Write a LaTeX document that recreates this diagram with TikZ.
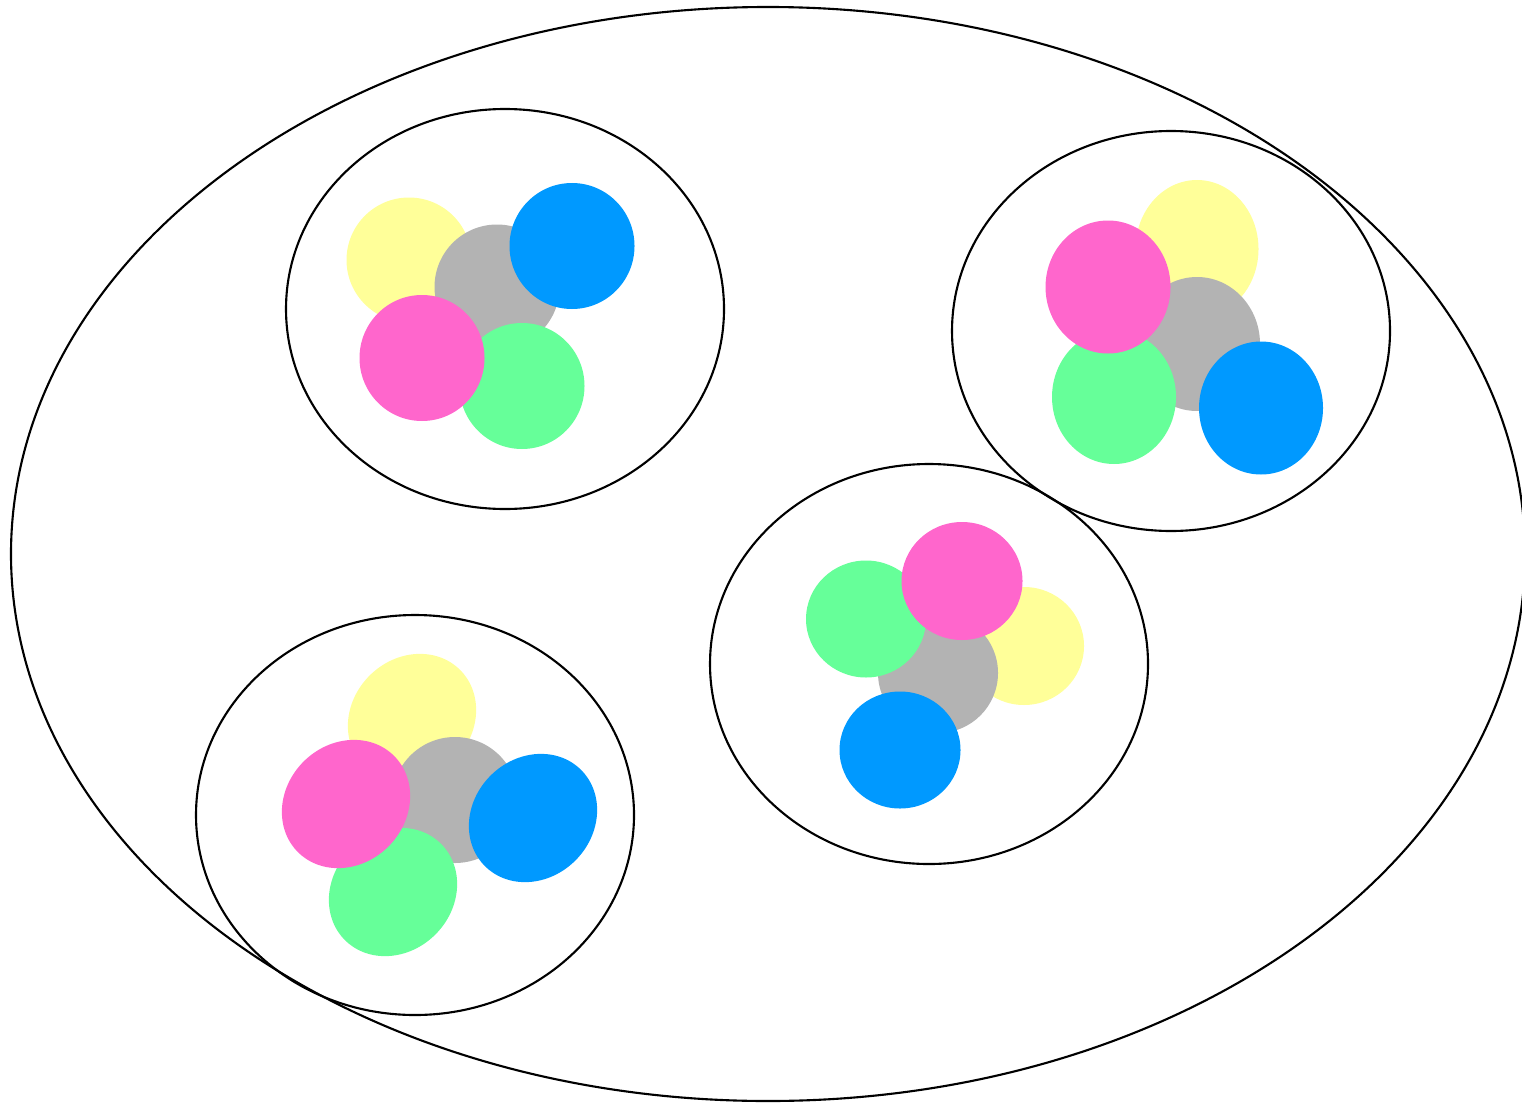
\documentclass[tikz,border=0pt]{standalone}
\usepackage{xcolor}
\definecolor{cyel}{RGB}{255,255,153}
\definecolor{cgray}{RGB}{179,179,179}
\definecolor{cblue}{RGB}{0,153,255}
\definecolor{cpink}{RGB}{255,102,204}
\definecolor{cgreen}{RGB}{102,255,153}
\usepackage{tikz}

\begin{document}
\begin{tikzpicture}[
  x=0.01cm,y=0.01cm,
  shell/.style={draw=black,line width=0.6pt},
  blob/.style={draw=none},
  tilted/.style={blob,rotate around={45:#1}}
]
  \useasboundingbox (0,0) rectangle (1522,1102);
  \clip (0,0) rectangle (1522,1102);

  % outer population
  \draw[shell] (768,548) ellipse [x radius=757,y radius=547];

  % groups
  \draw[shell] (505,793) ellipse [x radius=219,y radius=200];
  \draw[shell] (1171,771) ellipse [x radius=219,y radius=200];
  \draw[shell] (929,438) ellipse [x radius=219,y radius=200];
  \draw[shell] (415,287) ellipse [x radius=219,y radius=200];

  % group 1 (top left)
  \fill[blob,cyel] (409,842) circle [radius=62.5];
  \fill[blob,cgray] (497,815) circle [radius=62.5];
  \fill[blob,cblue] (572,856) ellipse [x radius=62.5,y radius=63];
  \fill[blob,cgreen] (522,716) ellipse [x radius=62.5,y radius=63];
  \fill[blob,cpink] (422,744) ellipse [x radius=62.5,y radius=63];

  % group 2 (top right)
  \fill[blob,cyel] (1197,853) ellipse [x radius=61.5,y radius=69];
  \fill[blob,cgray] (1197,758) ellipse [x radius=63,y radius=67];
  \fill[blob,cgreen] (1114,705) ellipse [x radius=62,y radius=67];
  \fill[blob,cpink] (1108,815) ellipse [x radius=62.5,y radius=66.5];
  \fill[blob,cblue] (1261,694) ellipse [x radius=62,y radius=66.5];

  % group 3 (middle)
  \fill[blob,cyel] (1024,456) ellipse [x radius=60,y radius=59];
  \fill[blob,cgray] (938,429) circle [radius=60];
  \fill[blob,cgreen] (866,483) ellipse [x radius=60,y radius=58.5];
  \fill[blob,cpink] (962,521) ellipse [x radius=60.5,y radius=59];
  \fill[blob,cblue] (900,352) ellipse [x radius=60.5,y radius=58.5];

  % group 4 (bottom left)
  \fill[tilted={(412,384)},cyel] (412,384) ellipse [x radius=68,y radius=60];
  \fill[blob,cgray] (455,302) circle [radius=63];
  \fill[tilted={(393,210)},cgreen] (393,210) ellipse [x radius=68,y radius=60];
  \fill[tilted={(346,298)},cpink] (346,298) ellipse [x radius=68,y radius=60];
  \fill[tilted={(533,284)},cblue] (533,284) ellipse [x radius=68,y radius=60];
\end{tikzpicture}
\end{document}
